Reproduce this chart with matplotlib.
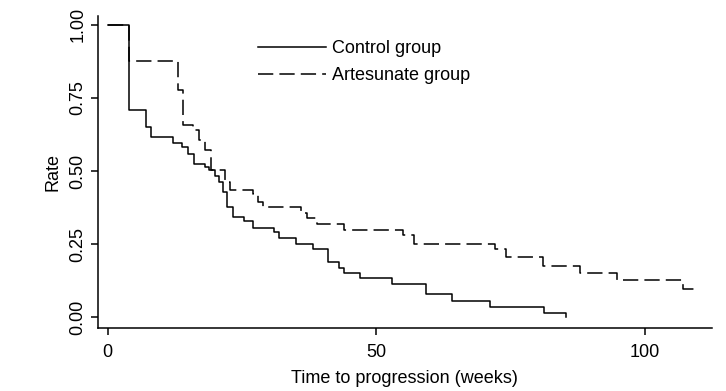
import matplotlib
matplotlib.use('Agg')
import matplotlib.pyplot as plt

# Kaplan-Meier steps (weeks, survival rate)
t_ctrl = [0, 4.0, 7.1, 8.1, 12.1, 13.9, 14.9, 16.1, 18.1, 18.9, 20.0, 20.8, 21.4, 22.2,
          23.3, 25.3, 27.0, 31.0, 31.9, 35.1, 38.2, 41.1, 43.1, 44.1, 47.0, 53.0, 59.2,
          64.1, 71.2, 81.2, 85.3]
s_ctrl = [1.0, 0.709, 0.652, 0.618, 0.597, 0.583, 0.56, 0.524, 0.515, 0.503, 0.483, 0.463,
          0.429, 0.378, 0.343, 0.329, 0.304, 0.29, 0.27, 0.252, 0.232, 0.19, 0.17, 0.153,
          0.135, 0.115, 0.078, 0.055, 0.035, 0.015, 0.0]

t_art = [0, 4.0, 13.0, 14.0, 15.9, 17.0, 18.1, 19.2, 21.8, 22.8, 27.1, 28.0, 29.0, 36.0,
         37.2, 38.9, 44.1, 55.0, 57.0, 72.1, 74.2, 81.1, 88.0, 94.8, 107.1, 110.0]
s_art = [1.0, 0.877, 0.778, 0.658, 0.641, 0.607, 0.573, 0.503, 0.463, 0.435, 0.423, 0.395,
         0.378, 0.355, 0.338, 0.318, 0.298, 0.281, 0.25, 0.235, 0.207, 0.176, 0.152, 0.127,
         0.098, 0.098]

x_ticks = [0, 50, 100]
y_ticks = [0, 0.25, 0.5, 0.75, 1.0]
y_ticklabels = ['0.00', '0.25', '0.50', '0.75', '1.00']

plt.rcParams['font.family'] = ['Liberation Sans', 'DejaVu Sans']

fig = plt.figure(figsize=(7.26, 3.91), dpi=100)
ax = fig.add_axes([0.1346, 0.1604, 0.9803 - 0.1346, 0.959 - 0.1604])

ax.step(t_ctrl, s_ctrl, where='post', color='black', lw=1.1, label='Control group')
ax.step(t_art, s_art, where='post', color='black', lw=1.1, linestyle=(0, (10, 4)),
        label='Artesunate group')

ax.set_xlim(-1.86, 112.5)
ax.set_ylim(-0.0376, 1.0301)
ax.set_xticks(x_ticks)
ax.set_yticks(y_ticks)
ax.set_yticklabels(y_ticklabels, rotation=90, va='center')
ax.tick_params(direction='out', length=5, width=1.1, labelsize=13, colors='black')
ax.tick_params(axis='y', pad=3)
ax.tick_params(axis='x', pad=6)

for side in ['top', 'right']:
    ax.spines[side].set_visible(False)
for side in ['left', 'bottom']:
    ax.spines[side].set_linewidth(1.1)

ax.set_xlabel('Time to progression (weeks)', fontsize=13, labelpad=7)
ax.set_ylabel('Rate', fontsize=13, labelpad=6)

ax.legend(loc='upper left', bbox_to_anchor=(0.24, 0.963), frameon=False, fontsize=13,
          handlelength=3.8, handletextpad=0.3, labelspacing=0.56, borderpad=0.2)

fig.savefig('out.png', dpi=100)
